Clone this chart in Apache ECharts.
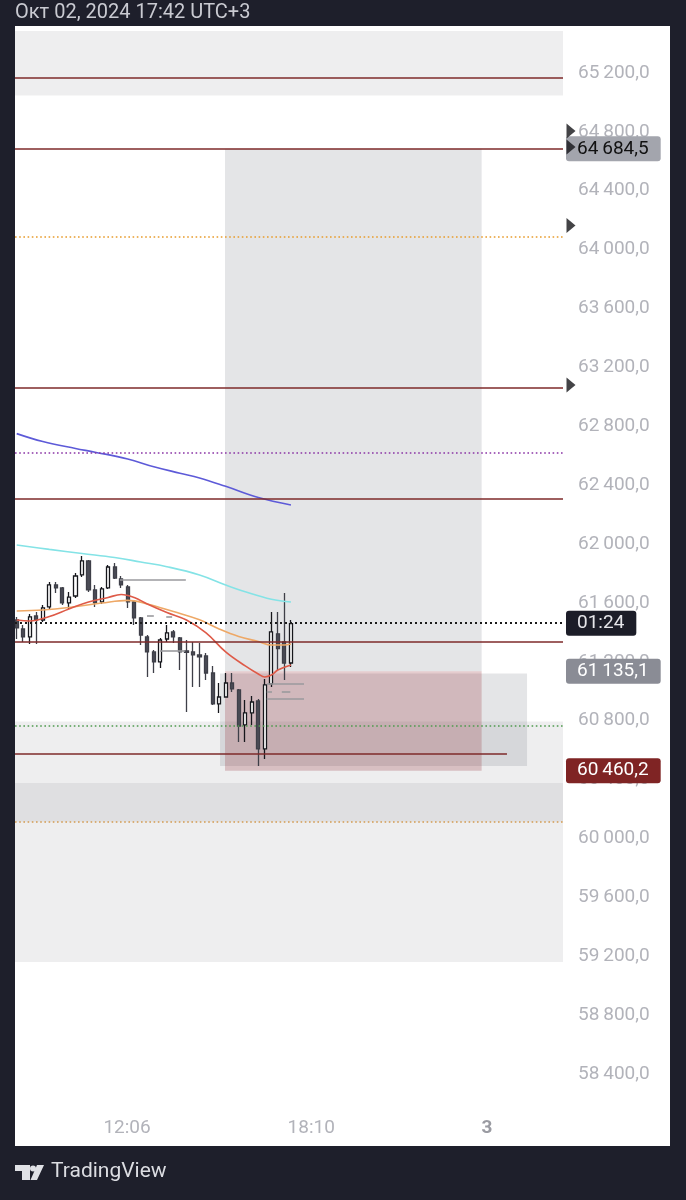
<!DOCTYPE html>
<html>
<head>
<meta charset="utf-8">
<title>BTCUSD</title>
<script src="https://cdn.jsdelivr.net/npm/echarts@6/dist/echarts.min.js"></script>
<style>
html, body { margin: 0; padding: 0; background: #1e1f2b; }
#chart { width: 686px; height: 1200px; }
</style>
</head>
<body>
<div id="chart"></div>
<script>
// candles: open, close, low, high (one per bar, bar index = position)
var candles = [
    [61484, 61430, 61355, 61505], [61423, 61369, 61335, 61450], [61369, 61505, 61321, 61525],
    [61511, 61484, 61321, 61539], [61484, 61566, 61471, 61586], [61573, 61722, 61559, 61742],
    [61722, 61702, 61668, 61742], [61702, 61600, 61586, 61708], [61600, 61640, 61559, 61674],
    [61647, 61783, 61634, 61803], [61790, 61885, 61776, 61919], [61885, 61688, 61674, 61892],
    [61688, 61600, 61573, 61722], [61607, 61695, 61593, 61708], [61702, 61844, 61695, 61858],
    [61844, 61769, 61763, 61871], [61763, 61722, 61702, 61783], [61708, 61607, 61566, 61722],
    [61607, 61498, 61450, 61620], [61498, 61382, 61314, 61505], [61369, 61267, 61097, 61382],
    [61267, 61199, 61124, 61281], [61199, 61348, 61158, 61362], [61355, 61396, 61335, 61450],
    [61403, 61369, 61328, 61416], [61362, 61267, 61145, 61369], [61274, 61264, 60859, 61348],
    [61267, 61247, 61029, 61335], [61247, 61233, 61029, 61328], [61240, 61124, 61077, 61260],
    [61124, 60914, 60907, 61172], [60914, 60961, 60853, 61056], [60961, 61056, 60955, 61124],
    [61056, 61016, 60995, 61124], [61009, 60764, 60656, 61016], [60771, 60853, 60656, 60941],
    [60853, 60927, 60771, 60968], [60934, 60608, 60493, 60948], [60608, 61043, 60540, 61083],
    [61050, 61403, 61029, 61539], [61390, 61290, 61145, 61539], [61335, 61192, 61077, 61668],
    [61192, 61460, 61165, 61484]
];

// moving averages, [bar index, price]
var maSlow = [[0, 62750], [4, 62696], [9, 62649], [12, 62624], [17, 62578], [21, 62525],
    [25, 62481], [28, 62449], [32, 62392], [37, 62316], [42, 62265]];
var maCyan = [[0, 61993], [5, 61964], [10, 61936], [15, 61909], [19, 61878], [23, 61846],
    [28, 61790], [32, 61722], [35, 61676], [39, 61625], [42, 61606]];
var maOrange = [[0, 61545], [4, 61552], [8, 61569], [13, 61599], [17, 61617], [20, 61593],
    [24, 61541], [28, 61485], [31, 61423], [34, 61372], [37, 61338], [39, 61314], [41, 61314], [42, 61321]];
var maRed = [[0, 61484], [2, 61477], [5, 61508], [8, 61559], [11, 61606], [14, 61637], [16, 61657],
    [18, 61637], [20, 61593], [23, 61535], [26, 61484], [29, 61396], [32, 61267], [35, 61172],
    [37, 61117], [38, 61097], [39, 61110], [40, 61144], [42, 61178]];

// drawn levels
var redLevels = [65168, 64684.5, 63060, 62311, 61337];
var redRay = [60578, 75.08];             // price, end bar
var dotOrange = 64086, dotPurple = 62623, dotGreen = 60765, dotOrange2 = 60114;
var lastPrice = 61462, countdown = '01:24';
var entry = 61135.1, target = 64684.5, stop = 60460.2;
var positionBars = [31.9, 71.2];
var boxBars = [31.14, 78.15], boxPrices = [61120, 60493];
var bands = [[65485, 65047], [60795, 60114], [60377, 59161]];
var alerts = [64806, 64697, 64164, 63080];
// small grey marks: [price, from bar, to bar]
var greyMarks = [[61756, 15.8, 25.9], [61274, 21.95, 25.8], [61050, 38.3, 44.0], [60952, 38.3, 44.0],
    [60995, 38.3, 39.1], [60995, 40.6, 41.9], [61512, 19.95, 21.0], [61507, 22.9, 23.8]];

var timeLabels = ['12:06', '18:10', '3'];
var timeLabelPos = [16.9, 45.1, 72];

var xMin = -0.26, xMax = 83.66;

function fmtPrice(v) {
    var s = v.toFixed(1).split('.');
    return s[0].replace(/\B(?=(\d{3})+(?!\d))/g, '\u2009') + ',' + s[1];
}

function boxLabel(text, bg, fg) {
    return {
        show: true, position: 'end', distance: 3, formatter: text,
        backgroundColor: bg, color: fg, fontSize: 19, fontFamily: 'Roboto',
        lineHeight: 19, padding: [3, 12, 3, 11], borderRadius: 3
    };
}

function hLine(price, color, type, width, label) {
    var item = { yAxis: price, lineStyle: { color: color, type: type, width: width } };
    if (label) item.label = label;
    return item;
}

var candleData = [];
for (var i = 0; i < candles.length; i++) {
    candleData.push([i, candles[i][0], candles[i][1], candles[i][2], candles[i][3]]);
}

var lines = [];
for (var i = 0; i < redLevels.length; i++) {
    lines.push(hLine(redLevels[i], '#7e2a2a', 'solid', 1.6,
        redLevels[i] === target ? boxLabel(fmtPrice(target), '#a3a5ad', '#111111') : null));
}
lines.push([{ coord: [xMin, redRay[0]], lineStyle: { color: '#7e2a2a', width: 1.6, type: 'solid' } },
    { coord: [redRay[1], redRay[0]] }]);
lines.push(hLine(dotOrange, '#e89c2c', [1.6, 2.6], 1.6));
lines.push(hLine(dotPurple, '#8a35a6', [1.6, 2.6], 1.6));
lines.push(hLine(dotGreen, '#4f9a4f', [1.6, 2.6], 1.6));
lines.push(hLine(dotOrange2, '#d39a50', [1.6, 2.6], 1.6));
lines.push(hLine(lastPrice, '#1a1a1a', [2, 3], 1.8, boxLabel(countdown, '#1c1d28', '#e6e6ea')));
lines.push(hLine(entry, 'rgba(0,0,0,0)', 'solid', 0, boxLabel(fmtPrice(entry), '#8a8c95', '#ffffff')));
lines.push(hLine(stop, 'rgba(0,0,0,0)', 'solid', 0, boxLabel(fmtPrice(stop), '#7f2424', '#ffffff')));
for (var i = 0; i < greyMarks.length; i++) {
    lines.push([{ coord: [greyMarks[i][1], greyMarks[i][0]], lineStyle: { color: '#9a9a9e', width: 1.6, type: 'solid' } },
        { coord: [greyMarks[i][2], greyMarks[i][0]] }]);
}

var areas = [];
for (var i = 0; i < bands.length; i++) {
    areas.push([{ yAxis: bands[i][0], itemStyle: { color: 'rgba(120,123,134,0.13)' } }, { yAxis: bands[i][1] }]);
}
areas.push([{ xAxis: boxBars[0], yAxis: boxPrices[0], itemStyle: { color: 'rgba(120,123,134,0.2)' } },
    { xAxis: boxBars[1], yAxis: boxPrices[1] }]);
areas.push([{ xAxis: positionBars[0], yAxis: target, itemStyle: { color: 'rgba(120,123,134,0.2)' } },
    { xAxis: positionBars[1], yAxis: entry }]);
areas.push([{ xAxis: positionBars[0], yAxis: entry, itemStyle: { color: 'rgba(150,50,60,0.25)' } },
    { xAxis: positionBars[1], yAxis: stop }]);

function maSeries(data, color) {
    return {
        type: 'line', data: data, smooth: 0.4, showSymbol: false, silent: true, z: 4,
        lineStyle: { color: color, width: 1.6 }
    };
}

var alertData = [];
for (var i = 0; i < alerts.length; i++) alertData.push([xMax, alerts[i]]);

var chart = echarts.init(document.getElementById('chart'));
chart.setOption({
    backgroundColor: '#1e1f2b',
    animation: false,
    graphic: [
        { type: 'rect', z: -10, shape: { x: 15, y: 26, width: 655, height: 1120 }, style: { fill: '#ffffff' } },
        { type: 'text', left: 15, top: 3, style: { text: 'Окт 02, 2024 17:42 UTC+3', fill: '#c9cad1', font: '20px Roboto' } },
        { type: 'polygon', shape: { points: [[15, 1165], [30, 1165], [30, 1180], [22, 1180], [22, 1171], [15, 1171]] }, style: { fill: '#e0e1e6' } },
        { type: 'circle', shape: { cx: 33, cy: 1168.5, r: 3 }, style: { fill: '#e0e1e6' } },
        { type: 'polygon', shape: { points: [[37, 1165], [44, 1165], [37, 1180], [30.5, 1180]] }, style: { fill: '#e0e1e6' } },
        { type: 'text', left: 51, top: 1161, style: { text: 'TradingView', fill: '#dcdde2', font: '21px Roboto' } }
    ],
    grid: { left: 15, right: 123, top: 26, bottom: 126 },
    xAxis: {
        type: 'value', min: xMin, max: xMax,
        splitLine: { show: false }, axisLine: { show: false }, axisTick: { show: false },
        axisLabel: {
            customValues: timeLabelPos,
            margin: 45, color: '#b2b3ba', fontSize: 19, fontFamily: 'Roboto',
            formatter: function (v) {
                for (var k = 0; k < timeLabelPos.length; k++) {
                    if (Math.abs(timeLabelPos[k] - v) < 0.01) {
                        return k === 2 ? '{day|' + timeLabels[k] + '}' : timeLabels[k];
                    }
                }
                return '';
            },
            rich: { day: { fontWeight: 'bold', color: '#9a9ba2', fontSize: 19, fontFamily: 'Roboto' } }
        }
    },
    yAxis: {
        type: 'value', position: 'right', min: 58400, max: 65519, interval: 400,
        splitLine: { show: false }, axisLine: { show: false }, axisTick: { show: false },
        axisLabel: {
            margin: 15, color: '#b2b3ba', fontSize: 19, fontFamily: 'Roboto', padding: [4, 0, 0, 0],
            formatter: function (v) { return v % 400 === 0 ? fmtPrice(v) : ''; }
        }
    },
    series: [
        {
            type: 'line', data: [], silent: true,
            markArea: { silent: true, data: areas }
        },
        {
            type: 'candlestick', data: candleData, encode: { x: 0, y: [1, 2, 3, 4] },
            barWidth: 3.6, z: 3, silent: true,
            itemStyle: { color: '#ffffff', color0: '#4b4c56', borderColor: '#16171c', borderColor0: '#3e3f48', borderWidth: 1.3 }
        },
        maSeries(maSlow, '#5d5ad8'),
        maSeries(maCyan, '#84e3e6'),
        maSeries(maOrange, '#eea866'),
        maSeries(maRed, '#de5a48'),
        {
            type: 'line', data: [], silent: true, z: 5,
            markLine: { silent: true, symbol: ['none', 'none'], label: { show: false }, data: lines }
        },
        {
            type: 'scatter', data: alertData, clip: false, silent: true, z: 10,
            symbol: 'triangle', symbolRotate: -90, symbolSize: [15, 9], symbolOffset: [8, 0],
            itemStyle: { color: '#141418' }
        }
    ]
});
</script>
</body>
</html>
